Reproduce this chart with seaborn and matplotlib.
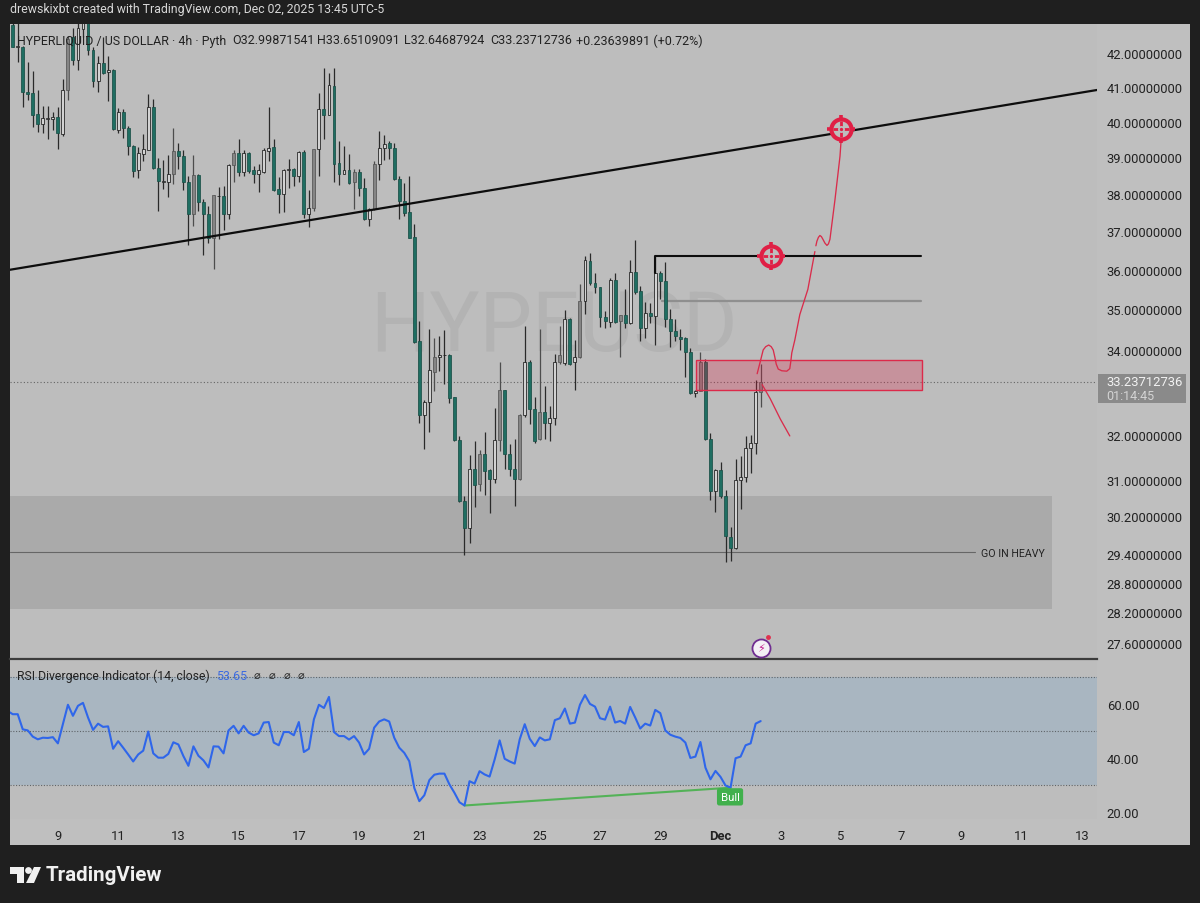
import numpy as np
import pandas as pd
import matplotlib
matplotlib.use("Agg")
import matplotlib.pyplot as plt
from matplotlib.patches import Rectangle, Polygon, Circle
from matplotlib.ticker import FixedLocator, FixedFormatter, NullLocator
import seaborn as sns

# 4h candles
opens = [
    42.86, 42.18, 42.20, 40.87, 40.82, 40.22, 39.95, 40.09, 40.07, 40.14,
    39.65, 40.92, 42.48, 41.80, 42.73, 42.93, 42.11, 41.17, 41.70, 41.45,
    41.50, 39.78, 40.28, 39.84, 39.33, 38.64, 39.10, 39.22, 40.44, 38.71,
    38.33, 38.32, 38.53, 39.18, 39.04, 38.32, 37.45, 38.51, 37.78, 37.45,
    36.83, 37.93, 37.93, 37.45, 38.78, 39.12, 38.60, 39.12, 38.65, 38.53,
    38.61, 39.19, 39.29, 38.13, 38.00, 38.65, 38.67, 38.50, 39.15, 37.47,
    37.62, 39.23, 40.36, 40.21, 41.05, 38.85, 38.55, 38.64, 38.31, 38.59,
    38.16, 37.32, 37.58, 38.83, 39.25, 39.40, 39.26, 38.41, 37.82, 37.51,
    36.86, 34.23, 32.47, 32.76, 33.48, 33.83, 33.87, 33.88, 32.88, 31.89,
    30.54, 29.95, 31.24, 30.91, 31.57, 31.21, 31.02, 31.89, 33.05, 31.58,
    31.23, 31.02, 32.45, 33.70, 32.61, 31.91, 32.53, 32.27, 32.39, 33.72,
    33.68, 34.77, 33.70, 33.83, 35.21, 36.22, 35.67, 35.57, 34.82, 34.69,
    35.75, 34.71, 34.85, 34.66, 35.95, 35.45, 34.54, 34.92, 34.83, 35.92,
    35.72, 34.75, 34.46, 34.32, 34.28, 33.94, 32.97, 33.03, 33.72, 31.92,
    30.76, 31.21, 30.63, 29.75, 29.52, 31.00, 31.05, 31.70, 31.82, 32.99871541,
]
highs = [
    42.98, 42.93, 42.23, 41.73, 41.47, 40.92, 40.46, 40.46, 40.28, 40.43,
    41.25, 42.53, 42.78, 42.98, 43.08, 43.03, 42.18, 41.93, 42.48, 41.93,
    41.53, 40.40, 40.36, 39.87, 39.36, 39.28, 39.65, 40.79, 40.65, 38.99,
    38.94, 39.06, 39.82, 39.39, 39.21, 38.48, 39.06, 38.54, 37.86, 37.67,
    37.97, 38.20, 38.22, 38.81, 39.21, 39.52, 39.21, 39.14, 38.76, 38.83,
    39.25, 40.44, 39.52, 38.45, 38.69, 38.96, 38.71, 39.17, 39.21, 38.11,
    39.23, 40.82, 41.58, 41.42, 41.58, 39.47, 39.33, 39.09, 38.67, 38.67,
    38.44, 37.62, 38.90, 39.75, 39.64, 39.47, 39.40, 38.48, 38.30, 38.48,
    37.20, 34.71, 32.82, 34.52, 34.29, 34.33, 34.48, 33.90, 32.89, 31.98,
    30.63, 31.55, 31.87, 31.67, 32.06, 31.23, 32.63, 33.70, 33.05, 31.80,
    31.92, 32.48, 34.58, 33.76, 32.88, 34.50, 33.14, 32.68, 33.90, 34.58,
    34.98, 34.79, 34.25, 35.63, 36.35, 36.44, 35.92, 35.57, 34.96, 35.79,
    35.92, 34.85, 35.52, 36.26, 36.76, 35.58, 35.17, 35.15, 36.39, 35.98,
    36.19, 35.00, 34.75, 34.50, 34.32, 34.04, 33.05, 33.94, 33.78, 32.05,
    31.23, 31.39, 30.78, 29.96, 31.45, 31.53, 31.98, 32.00, 33.27, 33.65109091,
]
lows = [
    42.18, 41.73, 40.43, 40.63, 39.85, 39.72, 39.69, 39.52, 39.78, 39.23,
    39.59, 40.63, 41.66, 41.50, 42.48, 41.96, 41.02, 40.85, 41.38, 40.60,
    39.78, 39.69, 39.54, 39.06, 38.46, 38.44, 38.90, 39.21, 38.68, 37.54,
    38.13, 37.91, 38.28, 38.68, 38.11, 36.63, 37.14, 37.54, 36.39, 36.70,
    36.02, 36.79, 37.04, 37.32, 38.31, 38.50, 38.50, 38.56, 38.30, 38.05,
    38.57, 38.90, 38.09, 37.49, 37.51, 38.16, 38.22, 38.31, 37.34, 37.12,
    37.54, 38.50, 39.52, 40.19, 38.33, 38.23, 38.53, 38.28, 37.60, 37.93,
    37.30, 37.14, 37.56, 38.37, 38.94, 38.96, 38.39, 37.33, 37.40, 36.82,
    34.17, 32.27, 31.68, 32.08, 33.03, 33.49, 33.19, 32.73, 31.87, 30.52,
    29.38, 29.63, 30.41, 30.76, 30.67, 30.27, 30.93, 31.64, 31.23, 31.08,
    30.42, 31.00, 32.42, 32.25, 31.83, 31.89, 31.91, 31.87, 32.23, 33.66,
    33.64, 33.63, 33.05, 33.80, 34.89, 35.60, 35.42, 34.57, 34.54, 34.57,
    34.67, 33.83, 34.53, 34.64, 35.38, 34.22, 34.29, 34.67, 34.12, 35.27,
    34.57, 34.08, 34.21, 34.00, 33.36, 32.95, 32.89, 33.01, 31.89, 30.56,
    30.30, 30.59, 29.23, 29.26, 29.50, 30.35, 30.94, 31.15, 31.57, 32.64687924,
]
closes = [
    42.20, 42.23, 40.85, 40.79, 40.21, 39.95, 40.11, 40.11, 40.14, 39.68,
    40.93, 42.43, 41.80, 42.76, 42.93, 42.10, 41.17, 41.70, 41.43, 41.51,
    39.80, 40.28, 39.82, 39.31, 38.62, 39.11, 39.23, 40.44, 38.70, 38.34,
    38.35, 38.54, 39.18, 39.04, 38.32, 37.45, 38.51, 37.78, 37.45, 36.83,
    37.96, 37.95, 37.45, 38.78, 39.12, 38.60, 39.12, 38.62, 38.53, 38.64,
    39.21, 39.25, 38.11, 38.00, 38.65, 38.67, 38.50, 39.15, 37.47, 37.62,
    39.23, 40.36, 40.21, 41.07, 38.83, 38.55, 38.65, 38.30, 38.59, 38.16,
    37.32, 37.58, 38.83, 39.25, 39.38, 39.25, 38.41, 37.82, 37.49, 36.83,
    34.19, 32.47, 32.76, 33.51, 33.84, 33.89, 33.89, 32.86, 31.89, 30.53,
    29.95, 31.24, 30.89, 31.57, 31.19, 31.02, 31.89, 33.05, 31.58, 31.23,
    31.02, 32.45, 33.71, 32.61, 31.87, 32.53, 32.27, 32.39, 33.72, 33.88,
    34.77, 33.67, 33.84, 35.21, 36.24, 35.65, 35.57, 34.81, 34.71, 35.75,
    34.69, 34.85, 34.65, 35.95, 35.43, 34.54, 34.92, 34.83, 35.92, 35.71,
    34.75, 34.46, 34.33, 34.27, 33.95, 32.97, 33.03, 33.70, 31.92, 30.76,
    31.21, 30.63, 29.77, 29.52, 31.00, 31.05, 31.70, 31.82, 32.99, 33.23712736,
]
# candles that show up with a grey body in the screenshot
grey_bars = [11, 32, 36, 40, 44, 60, 68, 72, 84, 93, 97, 101, 105, 109, 113, 121, 137, 149]

# RSI starts one bar before the first whole candle
rsi_values = [
    57.4, 56.2, 56.2, 50.6, 50.2, 47.9, 46.9, 47.5, 47.4, 47.7, 45.4,
    52.5, 59.7, 55.6, 59.3, 60.4, 55.0, 50.4, 52.7, 51.5, 51.7,
    43.4, 46.2, 43.8, 41.3, 38.7, 41.3, 42.7, 49.8, 41.7, 40.1,
    40.1, 41.5, 45.8, 45.0, 40.7, 37.1, 44.3, 40.8, 39.1, 36.5,
    44.3, 44.2, 41.7, 50.2, 51.9, 49.1, 51.9, 49.4, 48.4, 49.1,
    53.1, 53.3, 45.7, 44.7, 49.6, 49.6, 48.4, 53.3, 42.2, 43.4,
    54.3, 59.7, 58.5, 62.6, 49.6, 48.1, 48.1, 46.8, 48.1, 45.7,
    41.3, 43.4, 51.2, 53.5, 54.3, 53.5, 47.5, 43.8, 41.9, 38.8,
    28.9, 24.0, 26.2, 31.8, 33.8, 34.2, 34.2, 30.2, 27.1, 23.6,
    22.4, 31.4, 30.5, 35.1, 33.9, 33.1, 39.4, 46.5, 39.7, 38.7,
    37.9, 46.9, 52.5, 47.1, 44.4, 47.6, 46.5, 46.9, 54.0, 54.7,
    58.3, 52.7, 53.1, 59.7, 63.3, 60.0, 59.0, 54.7, 54.2, 59.0,
    53.1, 53.7, 52.7, 58.9, 55.0, 50.9, 52.7, 52.0, 57.8, 56.6,
    50.2, 48.6, 47.9, 47.4, 45.7, 40.0, 40.5, 45.9, 36.4, 32.1,
    35.2, 33.0, 29.8, 29.0, 39.9, 40.5, 44.7, 45.4, 52.7, 53.65,
]

# drawings on the chart, bar index and price
trend_bars = [-0.54, 216.0]
trend_prices = [36.00, 40.92]
resist_bars = [128.0, 128.0, 181.0]
resist_prices = [35.92, 36.36, 36.36]
grey_line_bars = [129.3, 181.0]
grey_line_prices = [35.21, 35.21]
path_up_bars = [148.3, 148.6, 148.9, 149.5, 150.0, 150.6, 151.1, 151.5, 151.8, 152.1, 152.5, 153.2,
                154.2, 154.8, 155.0, 155.2, 155.8, 156.8, 158.4, 159.8]
path_up_prices = [33.43, 33.57, 33.71, 34.00, 34.08, 34.12, 34.08, 34.00, 33.84, 33.66, 33.54, 33.50,
                  33.49, 33.55, 33.72, 33.93, 34.24, 34.87, 35.50, 36.47]
path_top_bars = [160.0, 160.2, 160.5, 160.8, 161.1, 161.4, 161.8, 162.2, 162.5, 162.8, 163.8, 164.8, 165.0]
path_top_prices = [36.62, 36.74, 36.84, 36.89, 36.86, 36.79, 36.69, 36.63, 36.67, 36.79, 37.84, 39.03, 39.43]
path_down_bars = [149.3, 150.9, 152.9, 154.8]
path_down_prices = [33.17, 32.84, 32.37, 31.98]
target_bars = [165.0, 151.0]
target_prices = [39.80, 36.36]

price_ticks = [42, 41, 40, 39, 38, 37, 36, 35, 34, 32, 31, 30.2, 29.4, 28.8, 28.2, 27.6]
date_bars = [9, 21, 33, 45, 57, 69, 81, 93, 105, 117, 129, 141, 153, 165, 177, 189, 201, 213]
date_labels = ["9", "11", "13", "15", "17", "19", "21", "23", "25", "27", "29", "Dec",
               "3", "5", "7", "9", "11", "13"]

DARK = "#1f1f1f"
PANE = "#bdbdbd"
TEAL = "#1f6e62"
INK = "#222222"
RED = "#e01f45"

sns.set_theme(style="white")
plt.rcParams["font.family"] = ["Roboto", "DejaVu Sans"]

W, H = 1200, 904
fig = plt.figure(figsize=(12, 9.04), dpi=100, facecolor=DARK)


def box(x0, y0, x1, y1):
    return [x0 / W, 1 - y1 / H, (x1 - x0) / W, (y1 - y0) / H]


def put(x, y, s, **kw):
    kw.setdefault("va", "center")
    kw.setdefault("color", INK)
    return fig.text(x / W, 1 - y / H, s, **kw)


fig.patches.append(Rectangle((10 / W, 1 - 846 / H), 1180 / W, 821 / H, transform=fig.transFigure,
                             facecolor="#bfbfbf", edgecolor="none", zorder=-1))

ax = fig.add_axes(box(10, 25, 1097, 660), facecolor=PANE)
ax_rsi = fig.add_axes(box(10, 662, 1097, 820), facecolor=PANE)

df = pd.DataFrame({"bar": np.arange(len(opens)), "open": opens, "high": highs,
                   "low": lows, "close": closes})
df["top"] = df[["open", "close"]].max(axis=1)
df["bottom"] = df[["open", "close"]].min(axis=1)
df["kind"] = np.where(df["close"] < df["open"], "down", "up")
df.loc[grey_bars, "kind"] = "grey"
body_colors = {"down": TEAL, "up": "#d2d2d2", "grey": "#858585"}
edge_colors = {"down": "#1a4f47", "up": "#1c1c1c", "grey": "#555555"}
wick_colors = {"down": "#2a2a2a", "up": "#2a2a2a", "grey": "#4d4d4d"}

ax.set_yscale("log")
ax.set_xlim(-0.54, 216)
ax.set_ylim(27.28, 42.89)

# zone and reference lines sit behind the candles
ax.add_patch(Rectangle((-0.54, 28.27), 207.54, 30.64 - 28.27, facecolor="#aaaaaa", edgecolor="none", zorder=1))
ax.plot([-0.54, 191.7], [29.44, 29.44], color="#666666", lw=0.8, zorder=1.5)
ax.text(192.9, 29.42, "GO IN HEAVY", fontsize=7.7, color=INK, va="center", zorder=5)
ax.text(107.8, 34.55, "HYPEUSD", fontsize=60, color="#b3b3b3", ha="center", va="center",
        fontweight="normal", zorder=1.2)
ax.axhline(closes[-1], color="#666666", lw=0.8, ls=(0, (1, 2)), zorder=1.5)

for kind, part in df.groupby("kind"):
    ax.vlines(part["bar"], part["low"], part["high"], color=wick_colors[kind], lw=0.9, zorder=2)
    ax.bar(part["bar"], part["top"] - part["bottom"], bottom=part["bottom"], width=0.58,
           color=body_colors[kind], edgecolor=edge_colors[kind], linewidth=0.55, zorder=3)

# red box
ax.add_patch(Rectangle((136.1, 33.05), 45.0, 33.76 - 33.05, facecolor=RED, alpha=0.27,
                       edgecolor="none", zorder=4))
ax.add_patch(Rectangle((136.1, 33.05), 45.0, 33.76 - 33.05, facecolor="none",
                       edgecolor="#dc2a4a", lw=1.0, zorder=4))

# hand drawn path
for bars, prices in [(path_up_bars, path_up_prices), (path_top_bars, path_top_prices),
                     (path_down_bars, path_down_prices)]:
    sns.lineplot(x=bars, y=prices, ax=ax, color="#d92c4b", lw=0.95, sort=False, estimator=None,
                 legend=False, zorder=5, solid_joinstyle="round")

# targets
for tx, ty in zip(target_bars, target_prices):
    ax.plot(tx, ty, marker="+", ms=20, mew=2.6, color=RED, zorder=6)
    ax.plot(tx, ty, marker="o", ms=14.5, mfc=PANE, mec=RED, mew=3, zorder=6)
    ax.plot(tx, ty, marker="+", ms=11, mew=2, color=RED, zorder=6)
    ax.plot(tx, ty, marker="o", ms=5, color=PANE, mew=0, zorder=6)

sns.lineplot(x=trend_bars, y=trend_prices, ax=ax, color="#0d0d0d", lw=1.6, estimator=None, legend=False, zorder=5.5)
sns.lineplot(x=resist_bars, y=resist_prices, ax=ax, color="#0d0d0d", lw=1.5, sort=False, estimator=None,
             legend=False, zorder=5.5)
sns.lineplot(x=grey_line_bars, y=grey_line_prices, ax=ax, color="#8f8f8f", lw=1.6, estimator=None,
             legend=False, zorder=2.5)
for tx, ty in zip(target_bars, target_prices):
    ax.plot(tx, ty, marker="o", ms=2.4, color=RED, mew=0, zorder=7)

# bolt badge
ax.plot(149, 27.49, marker="o", ms=13, mfc="#f4f0f6", mec="#6f2c91", mew=1.3, zorder=6, clip_on=False)
ax.text(149, 27.49, "\u26a1", fontsize=8, color="#c2188c", ha="center", va="center", zorder=7,
        family=["DejaVu Sans"])
ax.plot(150.5, 27.72, marker="o", ms=3.5, color="#e0304f", mew=0, zorder=7)

ax.yaxis.tick_right()
ax.yaxis.set_major_locator(FixedLocator(price_ticks))
ax.yaxis.set_major_formatter(FixedFormatter([f"{p:.8f}" for p in price_ticks]))
ax.yaxis.set_minor_locator(NullLocator())
ax.tick_params(axis="y", which="major", length=0, pad=7, labelsize=9.4, labelcolor=INK)
ax.set_xticks([])
ax.set_xlabel("")
ax.set_ylabel("")
for side in ["top", "left", "right"]:
    ax.spines[side].set_visible(False)
ax.spines["bottom"].set_color("#3c3c3c")
ax.spines["bottom"].set_linewidth(1.6)

# RSI pane
rsi_df = pd.DataFrame({"bar": np.arange(-1, len(rsi_values) - 1), "rsi": rsi_values})
ax_rsi.set_xlim(-0.54, 216)
ax_rsi.set_ylim(17.4, 75.9)
ax_rsi.axhspan(30, 70, color="#a9b6c1", lw=0, zorder=1)
for level in [70, 50, 30]:
    ax_rsi.axhline(level, color="#5f6468", lw=0.8, ls=(0, (1, 1.5)), zorder=1.5)
sns.lineplot(data=rsi_df, x="bar", y="rsi", ax=ax_rsi, color="#2f66ea", lw=1.5, estimator=None, legend=False, zorder=3)
sns.lineplot(x=[90, 143], y=[22.4, 29.0], ax=ax_rsi, color="#53b257", lw=1.5, estimator=None, legend=False, zorder=2.5)
ax_rsi.text(142.9, 25.6, "Bull", fontsize=8.2, color="white", ha="center", va="center", zorder=5,
            bbox=dict(boxstyle="round,pad=0.32,rounding_size=0.2", fc="#41b04c", ec="none"))

ax_rsi.yaxis.tick_right()
ax_rsi.set_yticks([60, 40, 20])
ax_rsi.set_yticklabels(["60.00", "40.00", "20.00"])
ax_rsi.tick_params(axis="y", length=0, pad=7, labelsize=9.4, labelcolor=INK)
ax_rsi.set_xticks(date_bars)
ax_rsi.set_xticklabels(date_labels)
ax_rsi.tick_params(axis="x", length=0, pad=7, labelsize=9.4, labelcolor=INK)
ax_rsi.get_xticklabels()[date_labels.index("Dec")].set_fontweight("bold")
ax_rsi.set_xlabel("")
ax_rsi.set_ylabel("")
for side in ["top", "left", "right", "bottom"]:
    ax_rsi.spines[side].set_visible(False)

# header texts
put(10, 10, "drewskixbt created with TradingView.com, Dec 02, 2025 13:45 UTC-5", fontsize=8.8, color="#d8d8d8")
put(17, 41, "HYPERLIQUID / US DOLLAR \u00b7 4h \u00b7 Pyth", fontsize=8.9, zorder=10)
put(232, 41, "O32.99871541", fontsize=9.0, zorder=10)
put(317, 41, "H33.65109091", fontsize=9.0, zorder=10)
put(404, 41, "L32.64687924", fontsize=9.0, zorder=10)
put(490, 41, "C33.23712736", fontsize=9.0, zorder=10)
put(576, 41, "+0.23639891 (+0.72%)", fontsize=9.0, zorder=10)

put(17, 676, "RSI Divergence Indicator (14, close)", fontsize=8.8, zorder=10)
put(216, 676, "53.65", fontsize=8.9, color="#3d6be0", zorder=10)
for x_sym in [257, 272, 287, 301]:
    put(x_sym, 676, "\u2300", fontsize=8, ha="center", zorder=10)

# last price tag
fig.patches.append(Rectangle((1098 / W, 1 - 404 / H), 88 / W, 29 / H, transform=fig.transFigure,
                             facecolor="#8a8a8a", edgecolor="none", zorder=8))
put(1106, 383, "33.23712736", fontsize=9.4, color="#f2f2f2", zorder=10)
put(1106, 397, "01:14:45", fontsize=9.0, color="#d4d4d4", zorder=10)

# logo and footer
fig.patches.append(Polygon([(10 / W, 1 - 868 / H), (24 / W, 1 - 868 / H), (24 / W, 1 - 884 / H),
                            (17 / W, 1 - 884 / H), (17 / W, 1 - 875 / H), (10 / W, 1 - 875 / H)],
                           transform=fig.transFigure, facecolor="#f0f0f0", edgecolor="none"))
fig.patches.append(Polygon([(34 / W, 1 - 868 / H), (41 / W, 1 - 868 / H), (34 / W, 1 - 884 / H),
                            (26 / W, 1 - 884 / H)],
                           transform=fig.transFigure, facecolor="#f0f0f0", edgecolor="none"))
fig.patches.append(Circle((28.5 / W * 12, (1 - 871.5 / H) * 9.04), 3.4 / 100,
                          transform=fig.dpi_scale_trans, facecolor="#f0f0f0", edgecolor="none"))
put(46, 876, "TradingView", fontsize=14.8, color="#f0f0f0", fontweight="bold")

fig.savefig("out.png", dpi=100, facecolor=fig.get_facecolor())
